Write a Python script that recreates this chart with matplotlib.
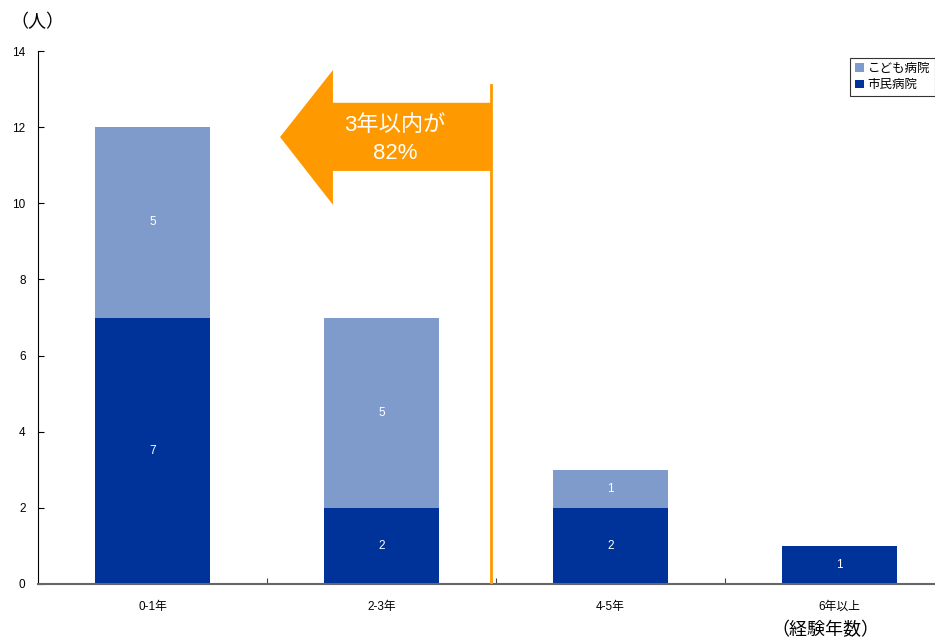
import matplotlib
matplotlib.use("Agg")
import matplotlib.pyplot as plt
from matplotlib.patches import Polygon

plt.rcParams['font.family'] = ['Liberation Sans', 'Noto Sans CJK JP']

categories = ['0-1年', '2-3年', '4-5年', '6年以上']
shimin = [7, 2, 2, 1]
kodomo = [5, 5, 1, 0]

c_dark = '#003399'
c_light = '#7F9BCB'
c_orange = '#FF9900'

fig = plt.figure(figsize=(9.35, 6.41), dpi=100)
ax = fig.add_axes([38 / 935, 57 / 641, 897 / 935, 533 / 641])

x = range(len(categories))
b1 = ax.bar(x, shimin, width=0.5, color=c_dark, label='市民病院')
b2 = ax.bar(x, kodomo, width=0.5, bottom=shimin, color=c_light, label='こども病院')

for i in x:
    ax.text(i, shimin[i] / 2, str(shimin[i]), color='white', ha='center', va='center', fontsize=8.5)
    if kodomo[i] > 0:
        ax.text(i, shimin[i] + kodomo[i] / 2, str(kodomo[i]), color='white',
                ha='center', va='center', fontsize=8.5)

ax.set_xlim(-0.5, 3.417)
ax.set_ylim(0, 14)
ax.set_yticks(range(0, 15, 2))
ax.set_xticks([0.5, 1.5, 2.5])
ax.set_xticks(list(x), minor=True)
ax.set_xticklabels([])
ax.set_xticklabels(categories, minor=True)
ax.tick_params(axis='x', which='major', direction='in', length=4, color='#444444')
ax.tick_params(axis='x', which='minor', length=0, pad=12, labelsize=8.5)
ax.tick_params(axis='y', direction='in', length=4, labelsize=8.5, pad=9)
ax.spines['top'].set_visible(False)
ax.spines['right'].set_visible(False)
ax.spines['bottom'].set_color('#666666')
ax.spines['bottom'].set_linewidth(1.5)

# 矢印
arrow = Polygon([(0.557, 11.74), (0.788, 13.50), (0.788, 12.64), (1.478, 12.64),
                 (1.478, 10.85), (0.788, 10.85), (0.788, 9.96)],
                closed=True, facecolor=c_orange, edgecolor='none', zorder=3)
ax.add_patch(arrow)
ax.plot([1.478, 1.478], [0, 13.11], color=c_orange, lw=2, zorder=3)
ax.text(1.06, 11.68, '3年以内が\n82%', color='white', fontsize=16, ha='center',
        va='center', linespacing=1.45, zorder=4)

handles = [b2, b1]
leg = ax.legend(handles=handles, labels=['こども病院', '市民病院'], loc='upper right',
                bbox_to_anchor=(1.0, 0.987), borderaxespad=0, fontsize=9, frameon=True,
                fancybox=False, handlelength=0.7, handleheight=0.7, handletextpad=0.3,
                borderpad=0.4, labelspacing=0.35, edgecolor='black')
leg.get_frame().set_linewidth(0.8)

fig.text(10 / 935, 1 - 22 / 641, '（人）', fontsize=13, va='center', ha='left')
fig.text(825 / 935, 1 - 630 / 641, '（経験年数）', fontsize=13, va='center', ha='center')

fig.savefig('out.png', dpi=100)
